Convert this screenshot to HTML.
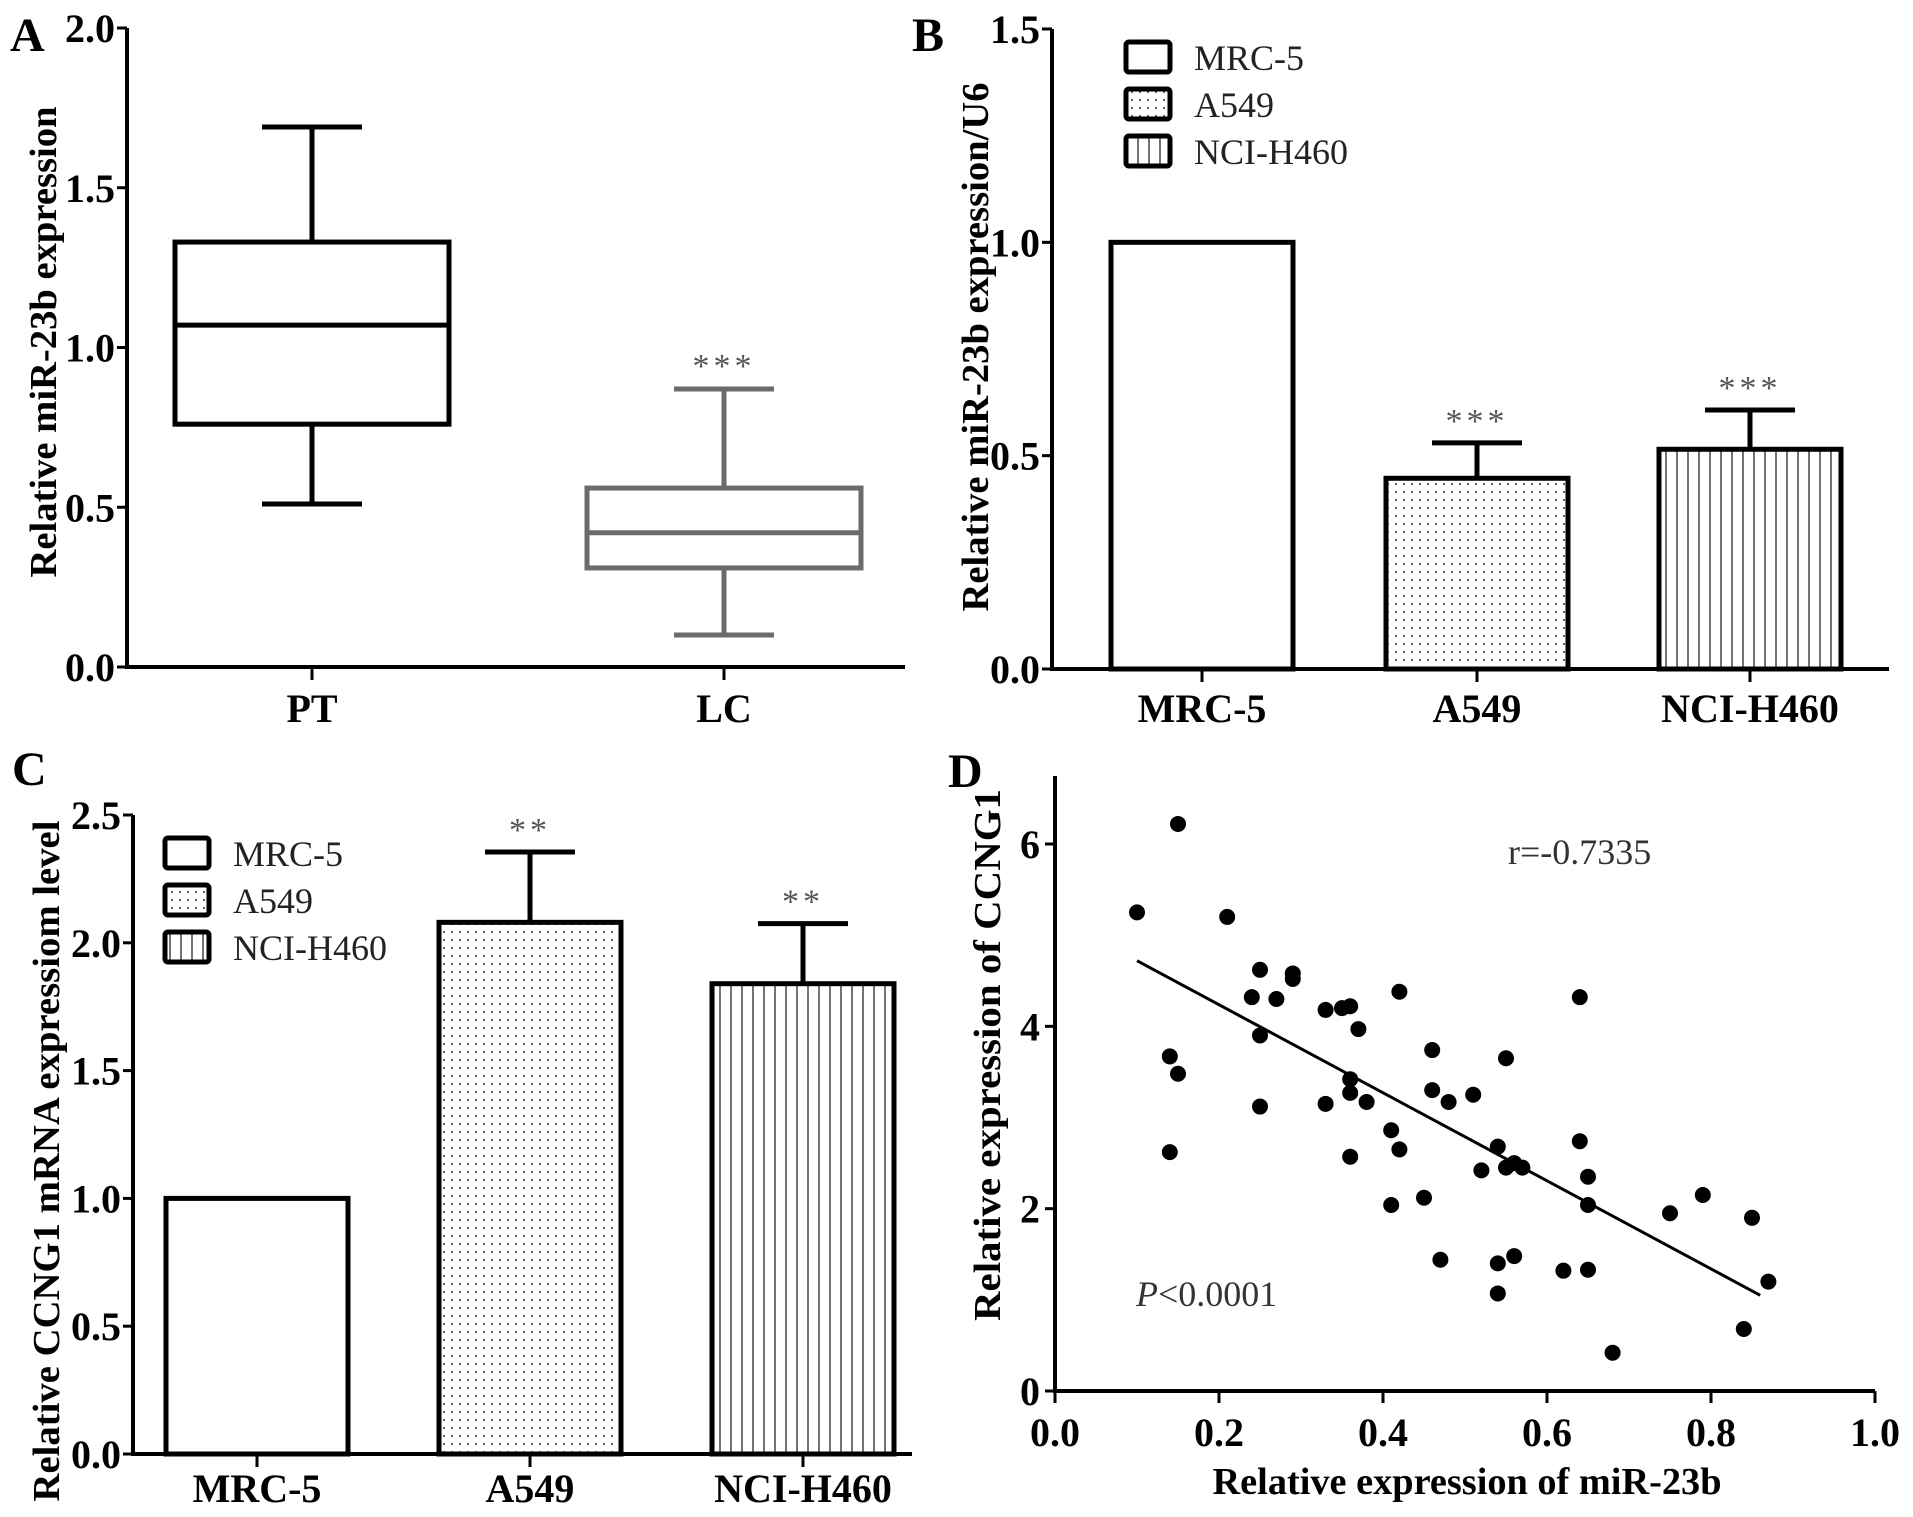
<!DOCTYPE html>
<html><head><meta charset="utf-8"><style>
html,body{margin:0;padding:0;background:#fff}
svg{display:block;font-family:"Liberation Serif",serif}
</style></head><body>
<svg id="fig" width="1913" height="1517" viewBox="0 0 1913 1517" xmlns="http://www.w3.org/2000/svg">
<defs>
<pattern id="dots" width="8" height="8" patternUnits="userSpaceOnUse"><rect width="8" height="8" fill="#fff"/><circle cx="4" cy="4" r="1.1" fill="#555"/></pattern>
<pattern id="vlines" width="11" height="11" patternUnits="userSpaceOnUse"><rect width="11" height="11" fill="#fff"/><line x1="5" y1="0" x2="5" y2="11" stroke="#444" stroke-width="1.5"/></pattern>
</defs>
<g id="root"></g>
</svg>
<script>
// Panel A box plot data
const aCats = ["PT","LC"];
const aMin = [0.51,0.10], aQ1 = [0.76,0.31], aMed = [1.07,0.42], aQ3 = [1.33,0.56], aMax = [1.69,0.87];
const aTicks = [0,0.5,1.0,1.5,2.0];
// Panel B bar data
const bCats = ["MRC-5","A549","NCI-H460"];
const bVals = [1.0,0.447,0.515];
const bErr = [0,0.083,0.092];
const bStars = ["","***","***"];
const bTicks = [0,0.5,1.0,1.5];
// Panel C bar data
const cCats = ["MRC-5","A549","NCI-H460"];
const cVals = [1.0,2.08,1.84];
const cErr = [0,0.275,0.235];
const cStars = ["","**","**"];
const cTicks = [0,0.5,1.0,1.5,2.0,2.5];
// Panel D scatter data
const dX = [0.10,0.15,0.21,0.14,0.15,0.14,0.25,0.24,0.27,0.29,0.29,0.25,0.25,0.33,0.35,0.36,0.37,0.33,0.36,0.36,0.38,0.36,0.41,0.42,0.41,0.42,0.46,0.46,0.48,0.51,0.45,0.47,0.55,0.54,0.52,0.55,0.56,0.57,0.54,0.56,0.54,0.64,0.64,0.65,0.65,0.62,0.65,0.68,0.75,0.79,0.85,0.84,0.87];
const dY = [5.25,6.22,5.2,3.67,3.48,2.62,4.62,4.32,4.3,4.58,4.52,3.9,3.12,4.18,4.2,4.22,3.97,3.15,3.42,3.27,3.17,2.57,2.86,2.65,2.04,4.38,3.74,3.3,3.17,3.25,2.12,1.44,3.65,2.68,2.42,2.45,2.5,2.45,1.4,1.48,1.07,4.32,2.74,2.35,2.04,1.32,1.33,0.42,1.95,2.15,1.9,0.68,1.2];
const dFitX = [0.10,0.86];
const dFitY = [4.72,1.05];
const dXTicks = [0,0.2,0.4,0.6,0.8,1.0];
const dYTicks = [0,2,4,6];

const NS="http://www.w3.org/2000/svg";
const root=document.getElementById('root');
function mk(tag,attrs,parent,text){const e=document.createElementNS(NS,tag);for(const k in attrs)e.setAttribute(k,attrs[k]);if(text!==undefined)e.textContent=text;(parent||root).appendChild(e);return e;}
function lin(d0,d1,r0,r1){return v=>r0+(v-d0)*(r1-r0)/(d1-d0);}
function fmt(v,dec){return v.toFixed(dec);}

function axes(g,x0,x1,y0,ytop,ys,ticks,dec){
  const ya=mk('line',{x1:x0,y1:y0+2,x2:x0,y2:ytop,stroke:'#000','stroke-width':4},g);
  
  
  const xa=mk('line',{x1:x0-2,y1:y0,x2:x1,y2:y0,stroke:'#000','stroke-width':4},g);
  
  
  ticks.forEach(t=>{
    const y=ys(t);
    const tk=mk('line',{x1:x0-10,y1:y,x2:x0,y2:y,stroke:'#000','stroke-width':3},g);
    
    
    const lb=mk('text',{x:x0-12,y:y+14,'text-anchor':'end','font-size':40,'font-weight':'bold'},g,fmt(t,dec));
    
    
  });
}
function ytitle(g,x,cy,len,text){
  const t=mk('text',{x:0,y:0,transform:`translate(${x},${cy}) rotate(-90)`,'text-anchor':'middle','font-size':38,'font-weight':'bold',textLength:len,lengthAdjust:'spacingAndGlyphs'},g,text);
  
  
}
function panelLetter(x,y,l){
  const t=mk('text',{x:x,y:y,'font-size':48,'font-weight':'bold'},root,l);
  
  
}

// ---------- Panel A ----------
(function(){
  const g=mk('g',{});
  
  
  const ys=lin(0,2,667,28);
  const xs=[312,724];
  axes(g,127,905,667,28,ys,aTicks,1);
  ytitle(g,56,342,471,'Relative miR-23b expression');
  aCats.forEach((c,i)=>{
    const col=i===0?'#000':'#6a6a6a';
    const x=xs[i],hw=137,cw=50;
    const bg=mk('g',{stroke:col,'stroke-width':5,fill:'none'},g);
    
    
    mk('line',{x1:x,y1:ys(aMax[i]),x2:x,y2:ys(aQ3[i])},bg);
    mk('line',{x1:x-cw,y1:ys(aMax[i]),x2:x+cw,y2:ys(aMax[i])},bg);
    mk('line',{x1:x,y1:ys(aMin[i]),x2:x,y2:ys(aQ1[i])},bg);
    mk('line',{x1:x-cw,y1:ys(aMin[i]),x2:x+cw,y2:ys(aMin[i])},bg);
    mk('rect',{x:x-hw,y:ys(aQ3[i]),width:2*hw,height:ys(aQ1[i])-ys(aQ3[i])},bg);
    mk('line',{x1:x-hw,y1:ys(aMed[i]),x2:x+hw,y2:ys(aMed[i])},bg);
    const tk=mk('line',{x1:x,y1:667,x2:x,y2:680,stroke:'#000','stroke-width':3},g);
    
    
    const lb=mk('text',{x:x,y:722,'text-anchor':'middle','font-size':40,'font-weight':'bold'},g,c);
    
    
  });
  const st=mk('text',{x:724,y:ys(aMax[1])-12,'text-anchor':'middle','font-size':34,fill:'#555','letter-spacing':'4'},g,'***');
  
  
})();
panelLetter(10,51,'A');

// ---------- bar panel helper ----------
function barPanel(name,cats,vals,errs,stars,ticks,o){
  const g=mk('g',{});
  
  
  const ys=lin(0,ticks[ticks.length-1],o.y0,o.ytop);
  axes(g,o.x0,o.x1,o.y0,o.ytop,ys,ticks,1);
  ytitle(g,o.tx,o.tcy,o.tlen,o.title);
  const fills=['#fff','url(#dots)','url(#vlines)'];
  cats.forEach((c,i)=>{
    const x=o.xs[i],hw=o.hw;
    const top=ys(vals[i]);
    if(errs[i]>0){
      const et=ys(vals[i]+errs[i]);
      const eb=mk('g',{stroke:'#000','stroke-width':5},g);
      
      
      mk('line',{x1:x,y1:top,x2:x,y2:et},eb);
      mk('line',{x1:x-45,y1:et,x2:x+45,y2:et},eb);
      const st=mk('text',{x:x,y:et-11,'text-anchor':'middle','font-size':34,fill:'#555','letter-spacing':'4'},g,stars[i]);
      
      
    }
    const r=mk('rect',{x:x-hw,y:top,width:2*hw,height:o.y0-top,fill:fills[i],stroke:'#000','stroke-width':5},g);
    
    
    const tk=mk('line',{x1:x,y1:o.y0,x2:x,y2:o.y0+13,stroke:'#000','stroke-width':3},g);
    
    
    const lb=mk('text',{x:x,y:o.ly,'text-anchor':'middle','font-size':40,'font-weight':'bold'},g,c);
    
    
  });
  const lg=mk('g',{},g);
  
  
  cats.forEach((c,i)=>{
    const y=o.legY[i];
    const e=mk('g',{},lg);
    
    
    mk('rect',{x:o.legX,y:y,width:44,height:30,rx:3,fill:fills[i],stroke:'#000','stroke-width':5},e);
    mk('text',{x:o.legX+68,y:y+28,'font-size':36,fill:'#222'},e,c);
  });
}
barPanel('panel-b-bar-chart',bCats,bVals,bErr,bStars,bTicks,{x0:1052,x1:1889,y0:669,ytop:29,xs:[1202,1477,1750],hw:91,ly:722,tx:988,tcy:347,tlen:529,title:'Relative miR-23b expression/U6',legX:1126,legY:[42,89,136]});
panelLetter(912,51,'B');
barPanel('panel-c-bar-chart',cCats,cVals,cErr,cStars,cTicks,{x0:133,x1:912,y0:1454,ytop:815,xs:[257,530,803],hw:91,ly:1502,tx:59,tcy:1161,tlen:681,title:'Relative CCNG1 mRNA expressiom level',legX:165,legY:[838,885,932]});
panelLetter(12,785,'C');

// ---------- Panel D ----------
(function(){
  const g=mk('g',{});
  
  
  const xs=lin(0,1,1055,1875), ys=lin(0,6,1391,844);
  const ya=mk('line',{x1:1055,y1:1393,x2:1055,y2:776,stroke:'#000','stroke-width':4},g);
  
  
  const xa=mk('line',{x1:1053,y1:1391,x2:1875,y2:1391,stroke:'#000','stroke-width':4},g);
  
  
  dYTicks.forEach(t=>{
    const y=ys(t);
    const tk=mk('line',{x1:1045,y1:y,x2:1055,y2:y,stroke:'#000','stroke-width':3},g);
    
    
    const lb=mk('text',{x:1040,y:y+14,'text-anchor':'end','font-size':40,'font-weight':'bold'},g,String(t));
    
    
  });
  dXTicks.forEach(t=>{
    const x=xs(t);
    const tk=mk('line',{x1:x,y1:1391,x2:x,y2:1403,stroke:'#000','stroke-width':3},g);
    
    
    const lb=mk('text',{x:x,y:1446,'text-anchor':'middle','font-size':40,'font-weight':'bold'},g,t.toFixed(1));
    
    
  });
  ytitle(g,1000,1055,532,'Relative expression of CCNG1');
  const xt=mk('text',{x:1467,y:1494,'text-anchor':'middle','font-size':38,'font-weight':'bold',textLength:509,lengthAdjust:'spacingAndGlyphs'},g,'Relative expression of miR-23b');
  
  
  const fl=mk('line',{x1:xs(dFitX[0]),y1:ys(dFitY[0]),x2:xs(dFitX[1]),y2:ys(dFitY[1]),stroke:'#000','stroke-width':3},g);
  
  
  dX.forEach((x,i)=>{
    const c=mk('ellipse',{cx:xs(x),cy:ys(dY[i]),rx:8,ry:8,fill:'#000'},g);
    
    
  });
  const r=mk('text',{x:1508,y:864,'font-size':36,fill:'#333'},g,'r=-0.7335');
  
  
  const p=mk('text',{x:1136,y:1306,'font-size':36,fill:'#333'},g);
  
  
  mk('tspan',{'font-style':'italic'},p,'P');
  mk('tspan',{},p,'<0.0001');
})();
panelLetter(948,787,'D');
</script>
</body></html>
